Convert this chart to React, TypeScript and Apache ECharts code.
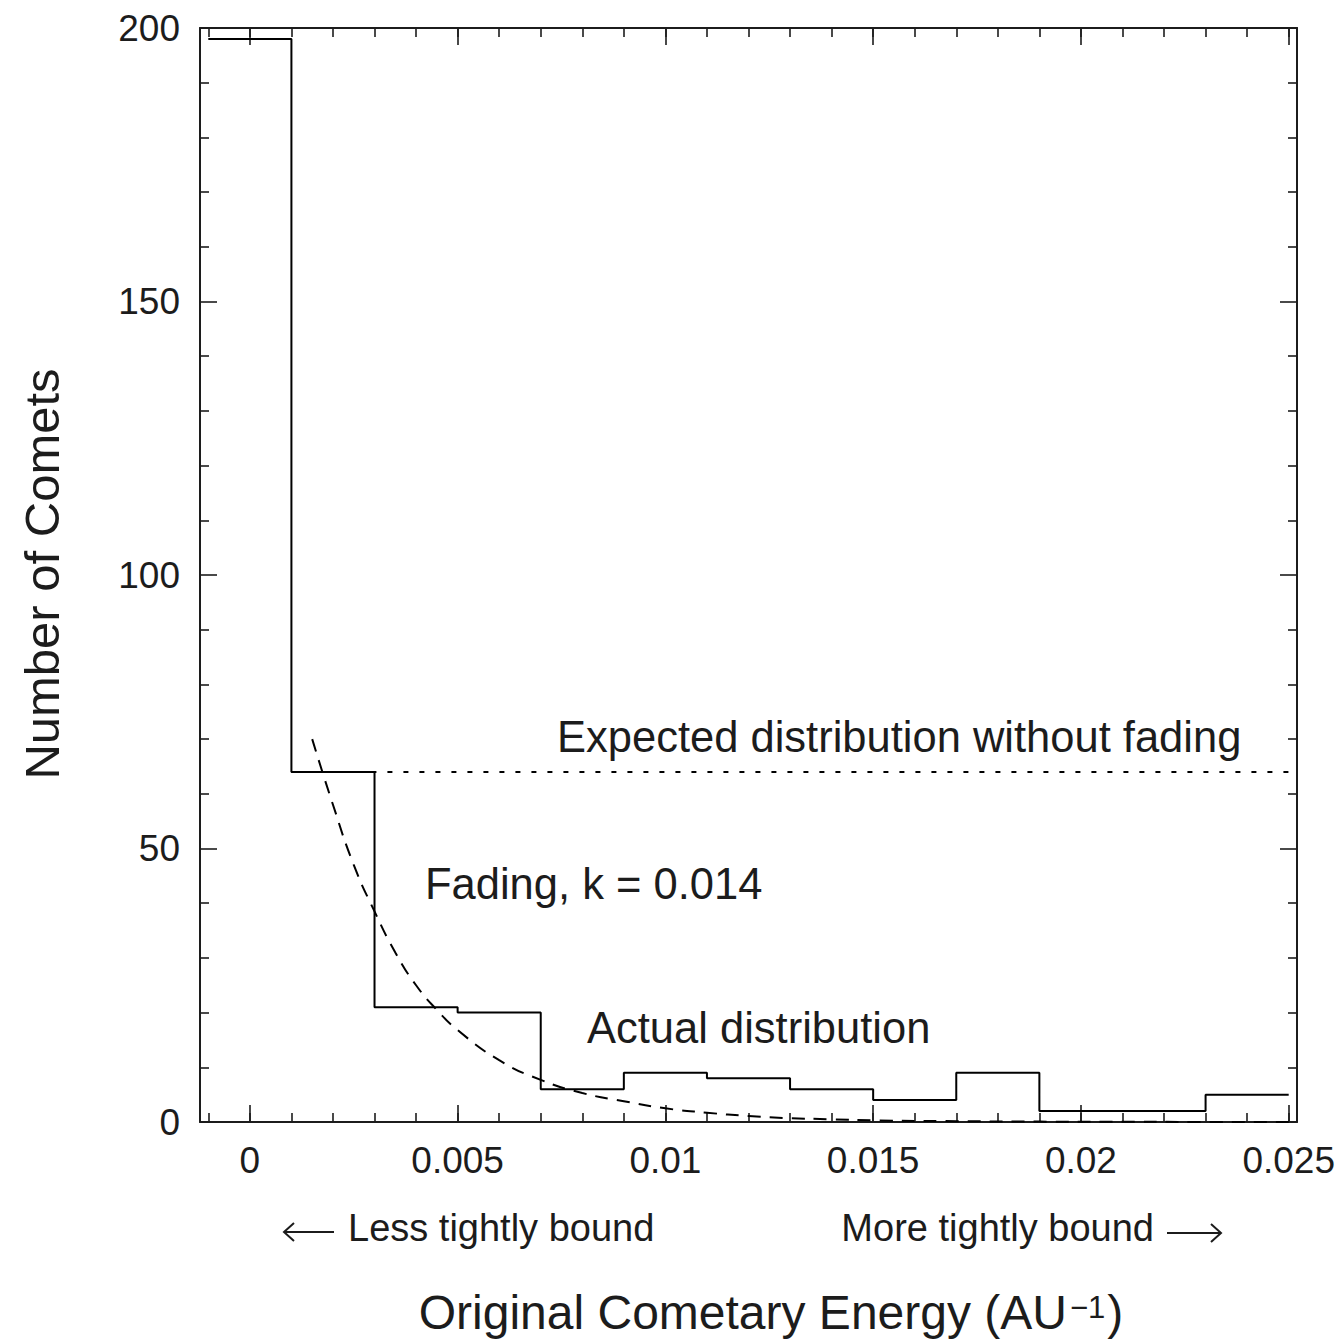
import React, { useEffect, useRef } from "react";
import * as echarts from "echarts";

// ---- Data ----
const binStarts = [-0.001, 0.001, 0.003, 0.005, 0.007, 0.009, 0.011, 0.013, 0.015, 0.017, 0.019, 0.021, 0.023];
const binCounts = [198, 64, 21, 20, 6, 9, 8, 6, 4, 9, 2, 2, 5];
const binWidth = 0.002;

const expectedLevel = 64;
const expectedRange = [0.001, 0.025];

const fadeX = [0.0015, 0.002, 0.0025, 0.003, 0.0035, 0.004, 0.0045, 0.005, 0.006, 0.007, 0.008, 0.009, 0.01, 0.011, 0.012, 0.013, 0.014, 0.015, 0.017, 0.019, 0.021, 0.023, 0.025];
const fadeY = [70, 58, 47, 38.5, 31, 25, 20.5, 16.8, 11.3, 7.7, 5.3, 3.8, 2.5, 1.7, 1.1, 0.7, 0.5, 0.3, 0.15, 0.07, 0.03, 0.02, 0.01];

const xMajorTicks = [0, 0.005, 0.01, 0.015, 0.02, 0.025];
const xTickLabels = ["0", "0.005", "0.01", "0.015", "0.02", "0.025"];
const xMinorTicks = [-0.001, 0, 0.001, 0.002, 0.003, 0.004, 0.005, 0.006, 0.007, 0.008, 0.009, 0.01, 0.011, 0.012, 0.013, 0.014, 0.015, 0.016, 0.017, 0.018, 0.019, 0.02, 0.021, 0.022, 0.023, 0.024, 0.025];

const FONT = "'Liberation Sans', Arial, Helvetica, sans-serif";
const INK = "#1c1c1c";

export default function App() {
  const ref = useRef<HTMLDivElement>(null);

  useEffect(() => {
    if (!ref.current) return;
    const chart = echarts.init(ref.current, undefined, { renderer: "svg" });

    const stepData: number[][] = binStarts.map((s, i) => [s, binCounts[i]]);
    stepData.push([binStarts[binStarts.length - 1] + binWidth, binCounts[binCounts.length - 1]]);

    const fadeData = fadeX.map((x, i) => [x, fadeY[i]]);

    const axisLineStyle = { color: INK, width: 2 };
    const tickLine = { color: INK, width: 1.6 };

    const xBase = {
      type: "value" as const,
      min: -0.0012,
      max: 0.0252,
      splitLine: { show: false },
      gridIndex: 0,
    };

    const yBase = {
      type: "value" as const,
      min: 0,
      max: 200,
      interval: 50,
      splitLine: { show: false },
      minorSplitLine: { show: false },
      axisLine: { show: true, onZero: false, lineStyle: axisLineStyle },
      axisTick: { show: true, inside: true, length: 17, lineStyle: tickLine },
      minorTick: { show: true, splitNumber: 5, length: 9, lineStyle: tickLine },
    };

    chart.setOption({
      animation: false,
      backgroundColor: "#ffffff",
      grid: { left: 200, top: 28, width: 1097, height: 1094, containLabel: false },
      xAxis: [
        {
          ...xBase,
          position: "bottom",
          axisLine: { show: true, onZero: false, lineStyle: axisLineStyle },
          axisTick: { show: true, inside: true, length: 9, customValues: xMinorTicks, lineStyle: tickLine },
          axisLabel: {
            show: true,
            customValues: xMajorTicks,
            formatter: (v: number) => {
              const idx = xMajorTicks.findIndex((t) => Math.abs(t - v) < 1e-9);
              return idx >= 0 ? xTickLabels[idx] : "";
            },
            fontSize: 37,
            fontFamily: FONT,
            color: INK,
            margin: 20,
          },
        },
        {
          ...xBase,
          position: "bottom",
          axisLine: { show: false, onZero: false },
          axisTick: { show: true, inside: true, length: 17, customValues: xMajorTicks, lineStyle: tickLine },
          axisLabel: { show: false },
        },
        {
          ...xBase,
          position: "top",
          axisLine: { show: true, onZero: false, lineStyle: axisLineStyle },
          axisTick: { show: true, inside: true, length: 9, customValues: xMinorTicks, lineStyle: tickLine },
          axisLabel: { show: false },
        },
        {
          ...xBase,
          position: "top",
          axisLine: { show: false, onZero: false },
          axisTick: { show: true, inside: true, length: 17, customValues: xMajorTicks, lineStyle: tickLine },
          axisLabel: { show: false },
        },
      ],
      yAxis: [
        {
          ...yBase,
          position: "left",
          axisLabel: { show: true, fontSize: 37, fontFamily: FONT, color: INK, margin: 20 },
        },
        {
          ...yBase,
          position: "right",
          axisLabel: { show: false },
        },
      ],
      series: [
        {
          name: "Actual distribution",
          type: "line",
          xAxisIndex: 0,
          yAxisIndex: 0,
          step: "end",
          symbol: "none",
          data: stepData,
          lineStyle: { color: "#000", width: 2 },
          z: 3,
        },
        {
          name: "Expected distribution without fading",
          type: "line",
          xAxisIndex: 0,
          yAxisIndex: 0,
          symbol: "none",
          data: [
            [expectedRange[0], expectedLevel],
            [expectedRange[1], expectedLevel],
          ],
          lineStyle: { color: "#000", width: 2, type: [5, 11] },
          z: 2,
        },
        {
          name: "Fading, k = 0.014",
          type: "line",
          xAxisIndex: 0,
          yAxisIndex: 0,
          symbol: "none",
          smooth: true,
          data: fadeData,
          lineStyle: { color: "#000", width: 2, type: [13, 9] },
          z: 2,
        },
      ],
      graphic: [
        {
          type: "text",
          x: 557,
          y: 737,
          style: { text: "Expected distribution without fading", fontSize: 43.5, fontFamily: FONT, fill: INK, verticalAlign: "middle", align: "left" },
        },
        {
          type: "text",
          x: 425,
          y: 884,
          style: { text: "Fading, k = 0.014", fontSize: 43.5, fontFamily: FONT, fill: INK, verticalAlign: "middle", align: "left" },
        },
        {
          type: "text",
          x: 587,
          y: 1028,
          style: { text: "Actual distribution", fontSize: 43.5, fontFamily: FONT, fill: INK, verticalAlign: "middle", align: "left" },
        },
        {
          type: "text",
          x: 348,
          y: 1228,
          style: { text: "Less tightly bound", fontSize: 38, fontFamily: FONT, fill: INK, verticalAlign: "middle", align: "left" },
        },
        {
          type: "text",
          x: 1154,
          y: 1228,
          style: { text: "More tightly bound", fontSize: 38, fontFamily: FONT, fill: INK, verticalAlign: "middle", align: "right" },
        },
        { type: "line", shape: { x1: 284, y1: 1232, x2: 334, y2: 1232 }, style: { stroke: INK, lineWidth: 2 } },
        { type: "polyline", shape: { points: [[294, 1223], [284, 1232], [294, 1241]] }, style: { stroke: INK, lineWidth: 2, fill: "none" } },
        { type: "line", shape: { x1: 1167, y1: 1233, x2: 1221, y2: 1233 }, style: { stroke: INK, lineWidth: 2 } },
        { type: "polyline", shape: { points: [[1211, 1224], [1221, 1233], [1211, 1242]] }, style: { stroke: INK, lineWidth: 2, fill: "none" } },
        {
          type: "text",
          x: 771,
          y: 1312,
          style: {
            text: "{a|Original Cometary Energy (AU}{s|−1}{a|)}",
            align: "center",
            verticalAlign: "middle",
            rich: {
              a: { fontSize: 48, fontFamily: FONT, fill: INK, lineHeight: 44 },
              s: { fontSize: 31, fontFamily: FONT, fill: INK, lineHeight: 30, verticalAlign: "top", padding: [2, 2, 0, 3] },
            },
          },
        },
        {
          type: "text",
          x: 42,
          y: 574,
          rotation: Math.PI / 2,
          style: { text: "Number of Comets", fontSize: 49, fontFamily: FONT, fill: INK, verticalAlign: "middle", align: "center" },
        },
      ],
    });

    return () => chart.dispose();
  }, []);

  return (
    <div
      ref={ref}
      style={{ position: "fixed", left: 0, top: 0, width: 1339, height: 1340, background: "#fff" }}
    />
  );
}
